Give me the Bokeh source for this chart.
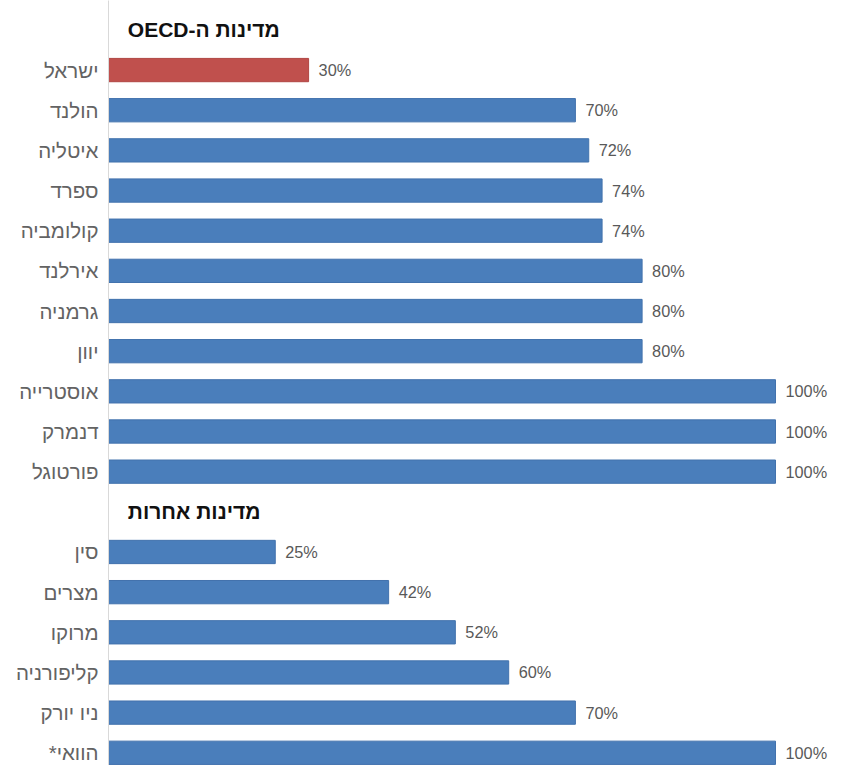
from bokeh.plotting import figure
from bokeh.models import Range1d, ColumnDataSource, LabelSet, FixedTicker
from bokeh.core.properties import value
from bokeh.embed import file_html
from bokeh.resources import INLINE

# ---- data ----
section_titles = ["מדינות ה-OECD", "מדינות אחרות"]
oecd_countries = ["ישראל", "הולנד", "איטליה", "ספרד", "קולומביה", "אירלנד",
                  "גרמניה", "יוון", "אוסטרייה", "דנמרק", "פורטוגל"]
oecd_values = [30, 70, 72, 74, 74, 80, 80, 80, 100, 100, 100]
other_countries = ["סין", "מצרים", "מרוקו", "קליפורניה", "ניו יורק", "הוואי*"]
other_values = [25, 42, 52, 60, 70, 100]
highlight = "ישראל"

FONT = "Liberation Sans"


def rtl(s):
    # right-to-left embedding so mixed Hebrew/Latin text displays as in the original
    return "\u202b" + s + "\u202c"


names = oecd_countries + other_countries
vals = oecd_values + other_values
n1 = len(oecd_countries)
ys = list(range(1, 1 + n1)) + list(range(n1 + 2, n1 + 2 + len(other_countries)))
title_ys = [0, n1 + 1]

colors = ["#C0504D" if n == highlight else "#4A7EBB" for n in names]
lines = ["#B04643" if n == highlight else "#4272AD" for n in names]
labels = [f"{v}%" for v in vals]

src = ColumnDataSource(dict(y=ys, v=vals, color=colors, line=lines, label=labels))

W, H = 828, 765
LEFT = 108
px_per_unit_x = 6.67
px_per_row = 40.16
top_off = 29.4
y_top = -top_off / px_per_row
y_bottom = y_top + H / px_per_row

p = figure(width=W, height=H, output_backend="svg", toolbar_location=None,
           x_range=Range1d(0, (W - LEFT) / px_per_unit_x),
           y_range=Range1d(y_bottom, y_top),
           x_axis_location=None,
           min_border_left=LEFT, min_border_right=0,
           min_border_top=0, min_border_bottom=0)

p.hbar(y="y", left=0, right="v", height=0.58, source=src,
       fill_color="color", line_color="line", line_width=1)

p.add_layout(LabelSet(x="v", y="y", text="label", source=src, x_offset=10,
                      text_baseline="middle", text_align="left",
                      text_font=value(FONT), text_font_size="16.3px",
                      text_color="#595959"))

p.text(x=[2.9, 2.9], y=title_ys, text=[rtl(t) for t in section_titles],
       text_font=value(FONT), text_font_size="21px", text_font_style="bold",
       text_color="#111111", text_baseline="middle", text_align="left")

yax = p.yaxis[0]
yax.ticker = FixedTicker(ticks=ys)
yax.major_label_overrides = {y: rtl(n) for y, n in zip(ys, names)}
yax.major_tick_line_color = None
yax.minor_tick_line_color = None
yax.axis_line_color = "#D9D9D9"
yax.major_label_standoff = 4
yax.major_label_text_font = FONT
yax.major_label_text_font_size = "20.5px"
yax.major_label_text_color = "#636363"

p.xgrid.visible = False
p.ygrid.visible = False
p.outline_line_color = None
p.background_fill_color = "white"
p.border_fill_color = "white"

open("out.html", "w").write(file_html(p, INLINE))
